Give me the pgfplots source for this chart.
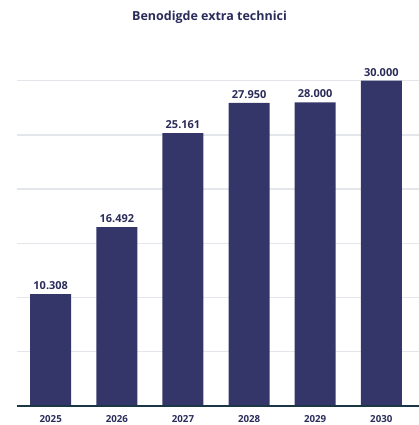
\documentclass[border=0pt]{standalone}
\usepackage{pgfplots}
\pgfplotsset{compat=1.18}
\usepackage{fontspec}
\setmainfont{Open Sans}
\definecolor{barc}{HTML}{34366A}
\definecolor{txtc}{HTML}{2A2C5A}
\definecolor{basec}{HTML}{1B3645}
\definecolor{gridc}{HTML}{E3E6EA}
\begin{document}
\begin{tikzpicture}[x=1pt,y=1pt]
\path[use as bounding box] (0,0) rectangle (419,425);
\node[font=\fontsize{12.5}{14}\selectfont\bfseries, text=txtc] at (209.5,408) {Benodigde extra technici};
\begin{axis}[
  at={(17pt,19.3pt)}, anchor=south west,
  scale only axis, width=402pt, height=325pt,
  xmin=-0.51, xmax=5.57, ymin=0, ymax=30000,
  xtick=data, xticklabels={2025,2026,2027,2028,2029,2030},
  ytick={5000,10000,15000,20000,25000,30000}, yticklabels={},
  scaled y ticks=false,
  ymajorgrids, grid style={gridc, line width=1.3pt},
  axis line style={draw=none},
  major tick length=0pt,
  xticklabel style={font=\fontsize{9.7}{11}\selectfont\bfseries, text=txtc, yshift=-6pt},
  clip=false,
  nodes near coords,
  nodes near coords style={font=\fontsize{11}{13}\selectfont\bfseries, text=txtc, yshift=1pt,
    /pgf/number format/fixed, /pgf/number format/1000 sep={.}, /pgf/number format/precision=0},
  /pgf/number format/assume math mode=true,
]
\addplot[ybar, bar width=41pt, fill=barc, draw=none] coordinates {
 (0,10308) (1,16492) (2,25161) (3,27950) (4,28000) (5,30000)
};
\draw[basec, line width=2pt] (rel axis cs:0,0) -- (rel axis cs:1,0);
\end{axis}
\end{tikzpicture}
\end{document}
